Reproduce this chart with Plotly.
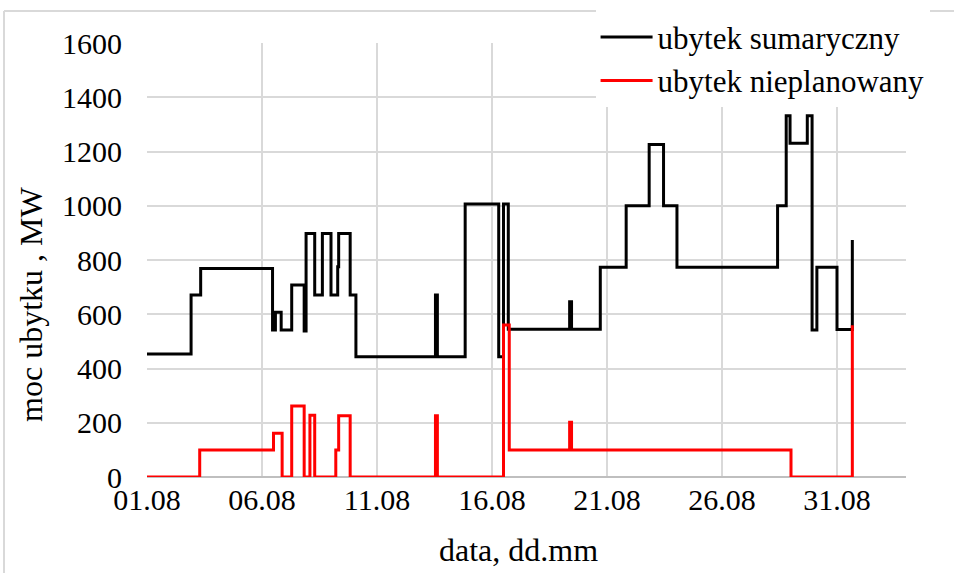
import plotly.graph_objects as go

# Step-change breakpoints (hourly data, value holds until next breakpoint)
total_times = [
    "2023-08-01 00:00", "2023-08-02 22:00", "2023-08-03 08:00", "2023-08-06 11:00",
    "2023-08-06 14:00", "2023-08-06 20:00", "2023-08-07 07:00", "2023-08-07 20:00",
    "2023-08-07 22:00", "2023-08-08 07:00", "2023-08-08 15:00", "2023-08-09 00:00",
    "2023-08-09 07:00", "2023-08-09 08:00", "2023-08-09 20:00", "2023-08-10 02:00",
    "2023-08-13 13:00", "2023-08-13 15:00", "2023-08-14 20:00", "2023-08-16 07:00",
    "2023-08-16 12:00", "2023-08-16 17:00", "2023-08-19 09:00", "2023-08-19 11:00",
    "2023-08-20 17:00", "2023-08-21 20:00", "2023-08-22 20:00", "2023-08-23 11:00",
    "2023-08-24 01:00", "2023-08-28 10:00", "2023-08-28 19:00", "2023-08-28 23:00",
    "2023-08-29 17:00", "2023-08-29 22:00", "2023-08-30 03:00", "2023-08-31 00:00",
    "2023-08-31 16:00",
]
total_values = [
    453, 671, 769, 542,
    607, 542, 708, 538,
    898, 671, 898, 671,
    775, 898, 671, 443,
    671, 443, 1006, 443,
    1006, 545, 646, 545,
    773, 1000, 1226, 1000,
    773, 1000, 1332, 1230,
    1332, 542, 773, 544,
    874,
]

unplanned_times = [
    "2023-08-01 00:00", "2023-08-03 07:00", "2023-08-06 12:00", "2023-08-06 21:00",
    "2023-08-07 07:00", "2023-08-07 20:00", "2023-08-08 02:00", "2023-08-08 07:00",
    "2023-08-09 05:00", "2023-08-09 08:00", "2023-08-09 20:00", "2023-08-13 13:00",
    "2023-08-13 15:00", "2023-08-16 12:00", "2023-08-16 18:00", "2023-08-19 09:00",
    "2023-08-19 11:00", "2023-08-29 00:00", "2023-08-31 16:00",
]
unplanned_values = [
    0, 100, 161, 0,
    262, 0, 228, 0,
    100, 226, 0, 226,
    0, 560, 100, 202,
    100, 0, 559,
]

tick_dates = ["2023-08-01", "2023-08-06", "2023-08-11", "2023-08-16",
              "2023-08-21", "2023-08-26", "2023-08-31"]
tick_labels = ["01.08", "06.08", "11.08", "16.08", "21.08", "26.08", "31.08"]
y_ticks = [0, 200, 400, 600, 800, 1000, 1200, 1400, 1600]

FONT = "Liberation Serif"
GRID = "#d9d9d9"

fig = go.Figure()
fig.add_trace(go.Scatter(
    x=total_times, y=total_values, mode="lines", line_shape="hv",
    name="ubytek sumaryczny", line=dict(color="#000000", width=3),
))
fig.add_trace(go.Scatter(
    x=unplanned_times, y=unplanned_values, mode="lines", line_shape="hv",
    name="ubytek nieplanowany", line=dict(color="#ff0000", width=3),
))

fig.update_layout(
    width=954, height=573,
    margin=dict(l=147, r=48, t=43, b=96, autoexpand=False),
    paper_bgcolor="white", plot_bgcolor="white",
    font=dict(family=FONT, size=30, color="#000000"),
    showlegend=True,
    legend=dict(
        x=0.591, y=1.075, xanchor="left", yanchor="top",
        bgcolor="white", font=dict(family=FONT, size=31, color="#000000"),
        tracegroupgap=0, itemwidth=52,
    ),
    xaxis=dict(
        type="date", range=["2023-08-01", "2023-09-03"],
        tickmode="array", tickvals=tick_dates, ticktext=tick_labels,
        showgrid=True, gridcolor=GRID, gridwidth=2,
        zeroline=False, showline=False, ticks="",
        ticklabelstandoff=2, automargin=False,
        tickfont=dict(family=FONT, size=30, color="#000000"),
    ),
    yaxis=dict(
        range=[0, 1600], tickmode="array", tickvals=y_ticks,
        showgrid=True, gridcolor=GRID, gridwidth=2,
        zeroline=True, zerolinecolor="#bfbfbf", zerolinewidth=2,
        showline=False, ticks="",
        ticklabelstandoff=24, automargin=False,
        tickfont=dict(family=FONT, size=30, color="#000000"),
    ),
    annotations=[
        dict(text="moc ubytku , MW", xref="paper", yref="paper",
             x=-0.152, y=0.398, xanchor="center", yanchor="middle",
             textangle=-90, showarrow=False,
             font=dict(family=FONT, size=32, color="#000000")),
        dict(text="data, dd.mm", xref="paper", yref="paper",
             x=0.490, y=-0.168, xanchor="center", yanchor="middle",
             showarrow=False,
             font=dict(family=FONT, size=32, color="#000000")),
    ],
    shapes=[
        dict(type="line", xref="paper", yref="paper", x0=-0.1884, x1=1.08,
             y0=1.074, y1=1.074, line=dict(color=GRID, width=2)),
        dict(type="line", xref="paper", yref="paper", x0=-0.1884, x1=-0.1884,
             y0=1.074, y1=-0.25, line=dict(color=GRID, width=2)),
    ],
)

fig.write_html("out.html", config={"displayModeBar": False},
               post_script="document.body.style.margin='0';")
